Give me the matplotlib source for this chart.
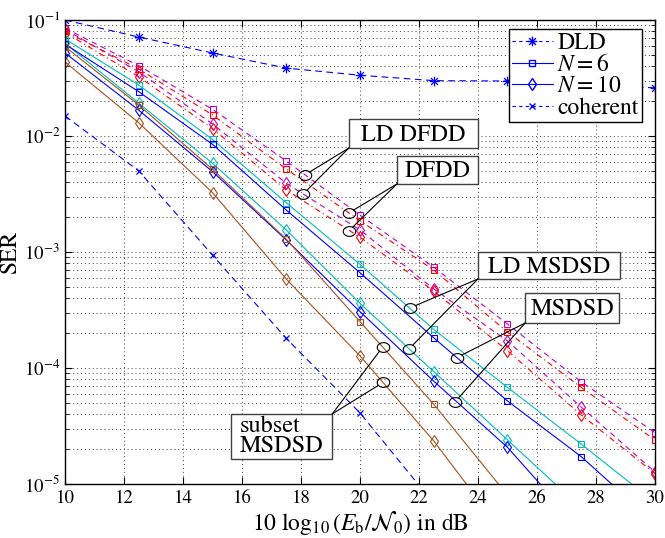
import numpy as np
import matplotlib
matplotlib.use("Agg")
import matplotlib.pyplot as plt
from matplotlib.lines import Line2D
from matplotlib.path import Path
from matplotlib.patches import Rectangle

plt.rcParams['font.family'] = ['STIXGeneral', 'Liberation Serif', 'DejaVu Serif']
plt.rcParams['mathtext.fontset'] = 'stix'

# ---------------- data ----------------
snr = [10, 12.5, 15, 17.5, 20, 22.5, 25, 27.5, 30]

dld = [0.1, 0.0713, 0.052, 0.0385, 0.0334, 0.030, 0.0298, 0.028, 0.026]
coherent = [0.0149, 0.0050, 9.4e-4, 1.8e-4, 4.1e-5, 6.8e-6]

ld_dfdd_n6 = [0.085, 0.0404, 0.0170, 0.00608, 2.08e-3, 7.4e-4, 2.39e-4, 7.6e-5, 2.77e-5]
dfdd_n6 = [0.080, 0.0378, 0.0152, 0.0052, 1.86e-3, 7.0e-4, 2.04e-4, 6.8e-5, 2.39e-5]
ld_dfdd_n10 = [0.083, 0.0358, 0.0127, 0.00391, 1.55e-3, 4.8e-4, 1.71e-4, 4.6e-5, 1.27e-5]
dfdd_n10 = [0.078, 0.0324, 0.0116, 0.00342, 1.34e-3, 4.6e-4, 1.41e-4, 3.94e-5, 1.23e-5]

ld_msdsd_n6 = [0.0686, 0.0275, 0.00935, 0.00266, 7.83e-4, 2.15e-4, 6.8e-5, 2.21e-5, 6.9e-6]
msdsd_n6 = [0.062, 0.0241, 0.00848, 0.0023, 6.63e-4, 1.82e-4, 5.2e-5, 1.72e-5, 4.6e-6]
ld_msdsd_n10 = [0.063, 0.0192, 0.00582, 0.00155, 3.61e-4, 9.3e-5, 2.4e-5, 6.2e-6]
msdsd_n10 = [0.052, 0.0167, 0.00493, 0.00127, 3.06e-4, 7.7e-5, 2.07e-5, 4.0e-6]
subset_n6 = [0.0589, 0.0185, 0.00517, 0.00129, 2.51e-4, 4.87e-5, 8.0e-6]
subset_n10 = [0.0435, 0.0130, 0.00325, 5.85e-4, 1.27e-4, 2.35e-5, 3.4e-6]

legend_labels = ['DLD', '$N=6$', '$N=10$', 'coherent']

# annotation boxes: label, box (axes fraction x0, y0, x1, y1), corner used, circle points (data)
ann_labels = ['LD DFDD', 'DFDD', 'LD MSDSD', 'MSDSD', 'subset\nMSDSD']
ann_boxes = [(0.481, 0.724, 0.700, 0.787),
             (0.563, 0.647, 0.700, 0.707),
             (0.700, 0.442, 0.941, 0.500),
             (0.780, 0.347, 0.939, 0.412),
             (0.281, 0.054, 0.453, 0.151)]
ann_corner = ['bl', 'bl', 'bl', 'bl', 'tr']
ann_points = [[(18.12, 4.6e-3), (18.07, 3.15e-3)],
              [(19.62, 2.17e-3), (19.62, 1.52e-3)],
              [(21.7, 3.3e-4), (21.66, 1.46e-4)],
              [(23.28, 1.23e-4), (23.22, 5.1e-5)],
              [(20.78, 1.53e-4), (20.78, 7.5e-5)]]

# ---------------- style ----------------
BLUE = '#0000ff'
CYAN = '#00bcbc'
BROWN = '#a8501e'
MAG = '#c000c0'
RED = '#ff0000'
lw = 0.8
ms_sq = 5
ms_d = 6

# asterisk marker (8 arms)
ast_verts, ast_codes = [], []
for a in np.arange(0, np.pi, np.pi/4):
    ast_verts += [(np.cos(a), np.sin(a)), (-np.cos(a), -np.sin(a))]
    ast_codes += [Path.MOVETO, Path.LINETO]
AST = Path(ast_verts, ast_codes)

fig = plt.figure(figsize=(6.65, 5.38), dpi=100)
ax = fig.add_axes([65/665, 1-484/538, 590/665, 464/538])

ax.plot(snr, dld, color=BLUE, ls=(0, (6, 4)), lw=lw, marker=AST, ms=7, mew=0.9)
ax.plot(snr[:len(coherent)], coherent, color=BLUE, ls=(0, (6, 4)), lw=lw, marker='x', ms=5, mew=0.9)

ax.plot(snr, ld_dfdd_n6, color=MAG, ls=(0, (5, 4)), lw=lw, marker='s', ms=ms_sq, mfc='none', mew=lw)
ax.plot(snr, ld_dfdd_n10, color=MAG, ls=(0, (5, 4)), lw=lw, marker='d', ms=ms_d, mfc='none', mew=lw)
ax.plot(snr, dfdd_n6, color=RED, ls=(0, (5, 3, 1, 3)), lw=lw, marker='s', ms=ms_sq, mfc='none', mew=lw)
ax.plot(snr, dfdd_n10, color=RED, ls=(0, (5, 3, 1, 3)), lw=lw, marker='d', ms=ms_d, mfc='none', mew=lw)

ax.plot(snr, ld_msdsd_n6, color=CYAN, ls='-', lw=lw, marker='s', ms=ms_sq, mfc='none', mew=lw)
ax.plot(snr[:len(ld_msdsd_n10)], ld_msdsd_n10, color=CYAN, ls='-', lw=lw, marker='d', ms=ms_d, mfc='none', mew=lw)
ax.plot(snr, msdsd_n6, color=BLUE, ls='-', lw=lw, marker='s', ms=ms_sq, mfc='none', mew=lw)
ax.plot(snr[:len(msdsd_n10)], msdsd_n10, color=BLUE, ls='-', lw=lw, marker='d', ms=ms_d, mfc='none', mew=lw)
ax.plot(snr[:len(subset_n6)], subset_n6, color=BROWN, ls='-', lw=lw, marker='s', ms=ms_sq, mfc='none', mew=lw)
ax.plot(snr[:len(subset_n10)], subset_n10, color=BROWN, ls='-', lw=lw, marker='d', ms=ms_d, mfc='none', mew=lw)

ax.set_yscale('log')
ax.set_xlim(10, 30)
ax.set_ylim(1e-5, 1e-1)
ax.set_xticks(np.arange(10, 31, 2))

ax.grid(True, which='major', ls=(0, (1, 3)), color='0.25', lw=0.7)
ax.grid(True, which='minor', axis='y', ls=(0, (1, 3)), color='0.25', lw=0.7)
ax.tick_params(which='both', direction='in', top=True, right=True, labelsize=13.5)
ax.tick_params(which='major', length=5, width=0.8)
ax.tick_params(which='minor', length=3, width=0.6)
ax.tick_params(axis='x', which='minor', bottom=False, top=False)
ax.tick_params(axis='x', pad=4)
for sp in ax.spines.values():
    sp.set_linewidth(1.0)

ax.set_xlabel(r'$10\ \log_{10}(E_{\mathrm{b}}/\mathcal{N}_0)$ in dB', fontsize=17, labelpad=1)
ax.set_ylabel('SER', fontsize=17, labelpad=2)

# legend
handles = [Line2D([], [], color=BLUE, ls=(0, (3, 3)), lw=lw, marker=AST, ms=7),
           Line2D([], [], color=BLUE, ls='-', lw=lw, marker='s', ms=ms_sq, mfc='none'),
           Line2D([], [], color=BLUE, ls='-', lw=lw, marker='d', ms=ms_d, mfc='none'),
           Line2D([], [], color=BLUE, ls=(0, (3, 3)), lw=lw, marker='x', ms=5)]
leg = ax.legend(handles, legend_labels, loc='upper right', bbox_to_anchor=(0.978, 0.981),
                borderaxespad=0, fontsize=17, handlelength=1.7, handletextpad=0.2,
                labelspacing=0.0, borderpad=0.15, fancybox=False, framealpha=1,
                edgecolor='k')
leg.get_frame().set_linewidth(1.0)

# elliptical circle marker
t = np.linspace(0, 2*np.pi, 50)
ell = Path(np.column_stack([np.cos(t), 0.78*np.sin(t)]), closed=True)

for lab, box, corner, pts in zip(ann_labels, ann_boxes, ann_corner, ann_points):
    x0, y0, x1, y1 = box
    ax.add_patch(Rectangle((x0, y0), x1-x0, y1-y0, transform=ax.transAxes,
                           fill=True, fc='white', ec='0.25', lw=1.0, zorder=5))
    if '\n' in lab:
        ax.text(x0 + 0.015, (y0+y1)/2, lab, transform=ax.transAxes, ha='left', va='center',
                fontsize=17.5, linespacing=0.9, zorder=6)
    else:
        ax.text((x0+x1)/2, (y0+y1)/2 - 0.003, lab, transform=ax.transAxes, ha='center', va='center',
                fontsize=17.5, zorder=6)
    cx, cy = (x0, y0) if corner == 'bl' else (x1, y1)
    for (px, py) in pts:
        ax.plot([px], [py], marker=ell, ms=9, mfc='none', mec='k', mew=0.8, ls='none', zorder=6)
        ax.annotate('', xy=(px, py), xycoords='data', xytext=(cx, cy), textcoords='axes fraction',
                    arrowprops=dict(arrowstyle='-', color='k', lw=0.8, shrinkA=0, shrinkB=4.0),
                    zorder=6)

fig.savefig('out.png', dpi=100)
